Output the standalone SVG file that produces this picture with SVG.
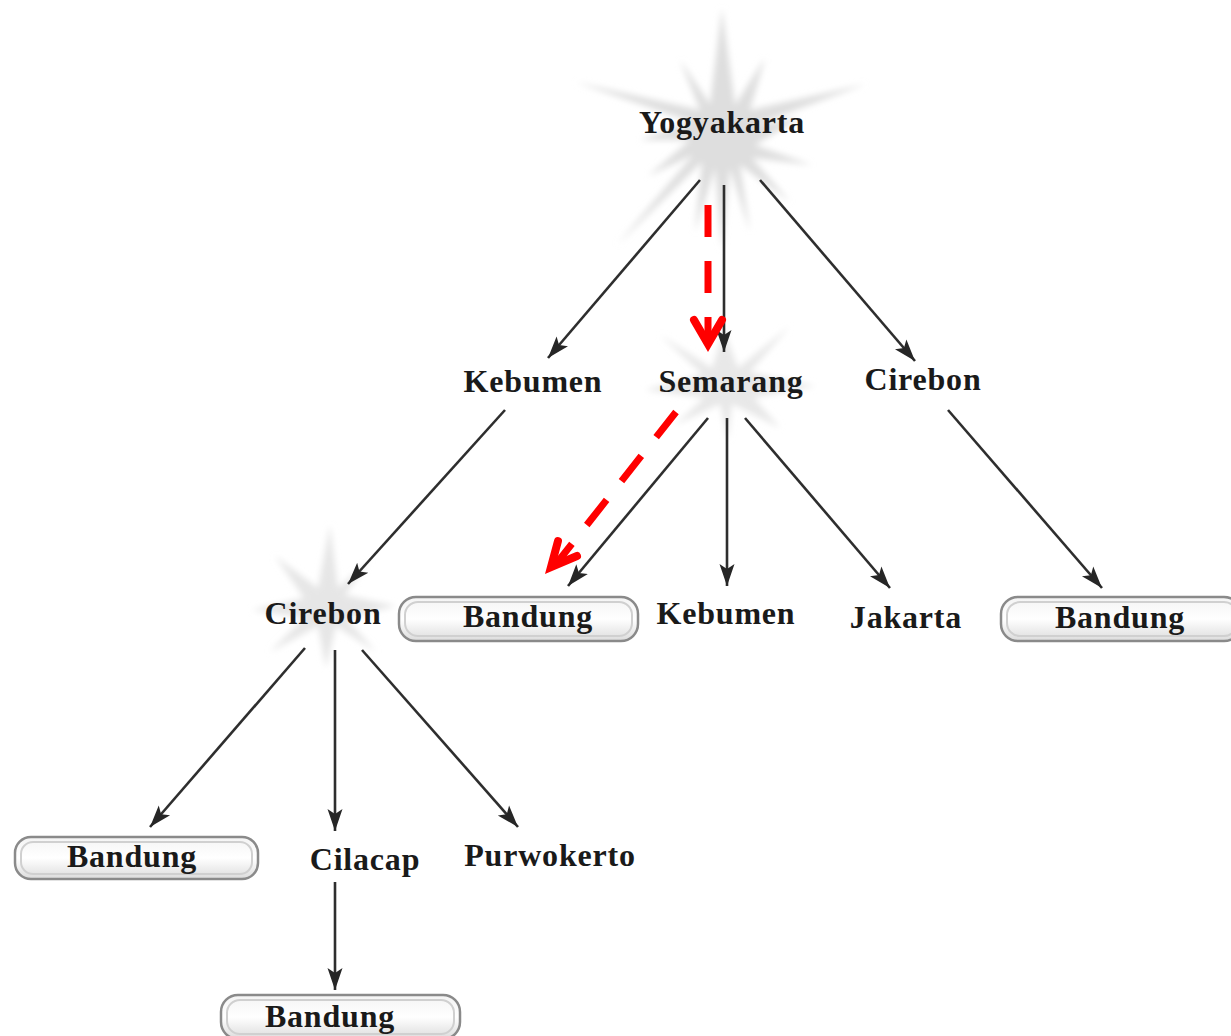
<svg xmlns="http://www.w3.org/2000/svg" width="1231" height="1036" viewBox="0 0 1231 1036">
<style>
.lbl{font-family:"Liberation Serif","DejaVu Serif",serif;font-weight:bold;font-size:32px;letter-spacing:0.8px;fill:#1a1a1a;text-anchor:middle}
.edge{stroke:#2e2e2e;stroke-width:2.6;fill:none;marker-end:url(#ah)}
.red{stroke:#ff0000;stroke-width:7;fill:none;stroke-dasharray:32 24}
.redhead{stroke:#ff0000;stroke-width:8;fill:none;stroke-linecap:round;stroke-linejoin:miter}
.star{fill:#dedede;filter:url(#soft)}
.pill{fill:url(#pg);stroke:#8a8a8a;stroke-width:2.5}
.pillin{fill:none;stroke:#d0d0d0;stroke-width:2}
</style>
<defs>
<filter id="soft" x="-20%" y="-20%" width="140%" height="140%"><feGaussianBlur stdDeviation="3"/></filter>
<linearGradient id="pg" x1="0" y1="0" x2="0" y2="1">
<stop offset="0" stop-color="#f4f4f4"/><stop offset="0.5" stop-color="#ffffff"/><stop offset="1" stop-color="#dcdcdc"/>
</linearGradient>
<marker id="ah" markerUnits="userSpaceOnUse" markerWidth="24" markerHeight="18" refX="22" refY="9" orient="auto">
<path d="M0,1.5 L22,9 L0,16.5 L5,9 z" fill="#262626"/>
</marker>
</defs>
<rect width="1231" height="1036" fill="#ffffff"/>

<g id="node-yogyakarta">
<polygon class="star" points="722,8 735,105 765,58 750,110 866,84 755,125 800,118 755,145 812,165 752,158 790,202 740,165 750,232 730,168 722,250 715,168 695,232 702,162 617,245 693,155 648,176 690,140 640,140 692,122 575,82 700,110 680,60 710,104"/>
<text class="lbl" x="722" y="133">Yogyakarta</text>
</g>

<g id="node-kebumen-1"><text class="lbl" x="533" y="392">Kebumen</text></g>

<g id="node-semarang">
<polygon class="star" style="fill:#e8e8e8" points="660,335 712,368 724,330 738,368 790,326 750,372 815,386 754,398 780,428 732,404 728,440 720,404 675,425 704,398 645,390 702,374"/>
<text class="lbl" x="731" y="392">Semarang</text>
</g>

<g id="node-cirebon-1"><text class="lbl" x="923" y="390">Cirebon</text></g>

<g id="node-cirebon-2">
<polygon class="star" style="fill:#e6e6e6" points="330,525 338,588 370,560 345,595 396,606 346,618 376,652 336,626 326,668 318,626 270,652 304,618 252,610 304,598 275,556 318,588"/>
<text class="lbl" x="323" y="624">Cirebon</text>
</g>

<g id="node-bandung-1">
<rect class="pill" x="399" y="597" width="239" height="44" rx="17"/>
<rect class="pillin" x="405" y="602" width="227" height="34" rx="13"/>
<text class="lbl" x="528" y="627">Bandung</text>
</g>

<g id="node-kebumen-2"><text class="lbl" x="726" y="624">Kebumen</text></g>
<g id="node-jakarta"><text class="lbl" x="906" y="628">Jakarta</text></g>

<g id="node-bandung-2">
<rect class="pill" x="1001" y="597" width="240" height="44" rx="17"/>
<rect class="pillin" x="1007" y="602" width="230" height="34" rx="13"/>
<text class="lbl" x="1120" y="628">Bandung</text>
</g>

<g id="node-bandung-3">
<rect class="pill" x="15" y="837" width="243" height="42" rx="16"/>
<rect class="pillin" x="21" y="842" width="231" height="32" rx="12"/>
<text class="lbl" x="132" y="867">Bandung</text>
</g>

<g id="node-cilacap"><text class="lbl" x="365" y="870">Cilacap</text></g>
<g id="node-purwokerto"><text class="lbl" x="550" y="866">Purwokerto</text></g>

<g id="node-bandung-4">
<rect class="pill" x="221" y="995" width="239" height="44" rx="17"/>
<rect class="pillin" x="227" y="1000" width="227" height="34" rx="13"/>
<text class="lbl" x="330" y="1027">Bandung</text>
</g>

<g id="connectors">
<line class="edge" x1="700" y1="180" x2="548" y2="358"/>
<line class="edge" x1="724" y1="185" x2="724" y2="352"/>
<line class="edge" x1="760" y1="180" x2="915" y2="361"/>
<line class="edge" x1="505" y1="410" x2="348" y2="584"/>
<line class="edge" x1="708" y1="418" x2="568" y2="586"/>
<line class="edge" x1="727" y1="418" x2="727" y2="586"/>
<line class="edge" x1="745" y1="418" x2="890" y2="588"/>
<line class="edge" x1="948" y1="410" x2="1102" y2="588"/>
<line class="edge" x1="305" y1="648" x2="150" y2="827"/>
<line class="edge" x1="335" y1="650" x2="335" y2="831"/>
<line class="edge" x1="362" y1="650" x2="518" y2="827"/>
<line class="edge" x1="335" y1="882" x2="335" y2="990"/>
<line class="red" x1="708" y1="205" x2="708" y2="336"/>
<polyline class="redhead" points="694,320 708,344 722,320"/>
<line class="red" x1="676" y1="412" x2="556" y2="564"/>
<polyline class="redhead" points="558,541 551,567 577,556"/>
</g>
</svg>
